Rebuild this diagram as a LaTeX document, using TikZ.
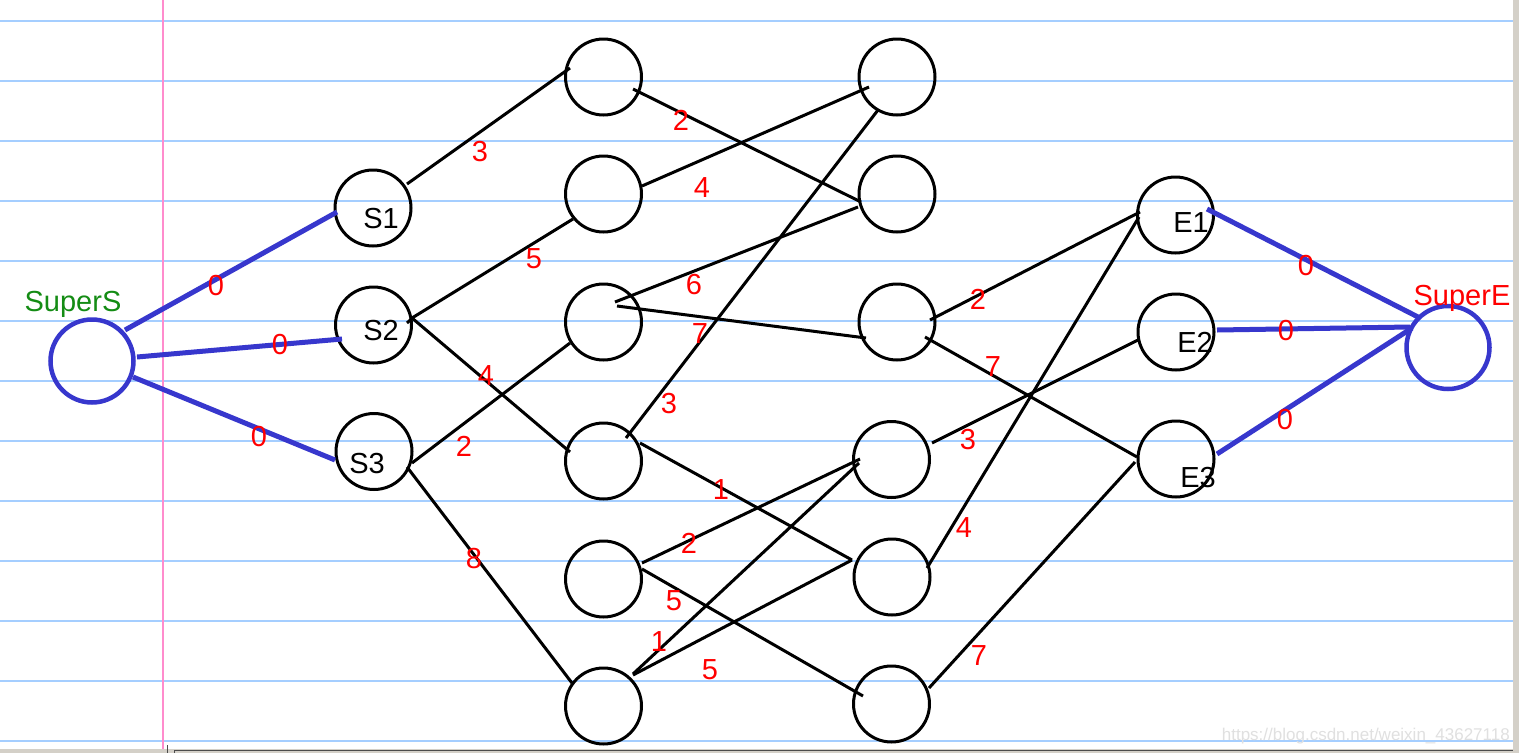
\documentclass[tikz,border=0pt]{standalone}
\usepackage{fontspec}
\setmainfont{Liberation Sans}
\usetikzlibrary{calc}
\definecolor{edgeblue}{RGB}{55,55,205}
\definecolor{gridblue}{RGB}{165,206,255}
\definecolor{marginpink}{RGB}{255,140,205}
\definecolor{labred}{RGB}{255,0,0}
\definecolor{labgreen}{RGB}{20,140,20}
\definecolor{framegray}{RGB}{212,208,200}
\tikzset{
  vtx/.style={circle,draw=black,line width=3pt,minimum size=76pt,inner sep=0pt},
  supervtx/.style={circle,draw=edgeblue,line width=4.5pt,minimum size=83pt,inner sep=0pt},
  edge/.style={draw=black,line width=3pt},
  superedge/.style={draw=edgeblue,line width=5pt},
  wt/.style={text=labred,font=\fontsize{29}{30}\selectfont,inner sep=0pt},
  vlabel/.style={text=black,font=\fontsize{29}{30}\selectfont,inner sep=0pt,anchor=base},
  gridline/.style={draw=gridblue,line width=2.8pt}
}
\begin{document}
\begin{tikzpicture}[x=1pt,y=-1pt]
\useasboundingbox (0,0) rectangle (1519,753);
\fill[white] (0,0) rectangle (1519,753);
% ruled paper
\foreach \yy in {21,81,...,741} \draw[gridline] (0,\yy) -- (1513,\yy);
\draw[marginpink,line width=2.2pt] (163,0) -- (163,749);
\fill[framegray] (1513,0) rectangle (1519,753);
\fill[framegray] (0,749) rectangle (1519,753);
\draw[black!70,line width=1pt] (174,753) -- (174,750) -- (1513,750);
\draw[black!70,line width=1pt] (167,745) -- (167,753);
% nodes
\node[supervtx] (SS) at (92,361) {};
\node[vtx] (S1) at (373,208) {};
\node[vtx] (S2) at (373.5,325) {};
\node[vtx] (S3) at (374,451.5) {};
\node[vtx] (A1) at (603.5,77) {};
\node[vtx] (A2) at (603.5,194) {};
\node[vtx] (A3) at (603.5,322) {};
\node[vtx] (A4) at (603.5,461) {};
\node[vtx] (A5) at (603.5,579) {};
\node[vtx] (A6) at (603.5,706) {};
\node[vtx] (B1) at (897,77) {};
\node[vtx] (B2) at (897,194) {};
\node[vtx] (B3) at (897,322) {};
\node[vtx] (B4) at (891.5,459.5) {};
\node[vtx] (B5) at (892,577) {};
\node[vtx] (B6) at (891.5,704) {};
\node[vtx] (E1) at (1175.5,215) {};
\node[vtx] (E2) at (1176,332) {};
\node[vtx] (E3) at (1176,459) {};
\node[supervtx] (SE) at (1448,347.5) {};
% names
\node[vlabel,text=labgreen] (SSt) at (73,311) {SuperS};
\node[vlabel,text=labred] (SEt) at (1462,305) {SuperE};
\node[vlabel] (S1t) at (381,228) {S1};
\node[vlabel] (S2t) at (381,340) {S2};
\node[vlabel] (S3t) at (367,473) {S3};
\node[vlabel] (E1t) at (1191,232) {E1};
\node[vlabel] (E2t) at (1195,352) {E2};
\node[vlabel] (E3t) at (1198,487) {E3};
% super edges
\draw[superedge] ($(SS)+(33,-31)$) -- ($(S1)+(-36,4)$);
\draw[superedge] ($(SS)+(45,-4)$) -- ($(S2)+(-31.5,14)$);
\draw[superedge] ($(SS)+(41,16)$) -- ($(S3)+(-39,8.5)$);
\draw[superedge] ($(E1)+(31.5,-6)$) -- ($(SE)+(-30,-30.5)$);
\draw[superedge] ($(E2)+(41,-2)$) -- ($(SE)+(-38,-20.5)$);
\draw[superedge] ($(E3)+(41,-5)$) -- ($(SE)+(-36,-19.5)$);
% black edges
\draw[edge] ($(S1)+(34,-24)$) -- ($(A1)+(-33.5,-9)$);
\draw[edge] ($(A1)+(29.5,12)$) -- ($(B2)+(-36,8)$);
\draw[edge] ($(A2)+(38.5,-8)$) -- ($(B1)+(-28,10)$);
\draw[edge] ($(S2)+(38.5,-7)$) -- ($(A2)+(-30.5,25)$);
\draw[edge] ($(S2)+(38.5,-7)$) -- ($(A4)+(-33.5,-9)$);
\draw[edge] ($(S2)+(33.5,-2)$) -- ($(S2)+(40,-8)$);
\draw[edge] ($(A3)+(11.5,-20)$) -- ($(B2)+(-39,13)$);
\draw[edge] ($(A3)+(13.5,-16)$) -- ($(B3)+(-31,16)$);
\draw[edge] ($(A4)+(22.5,-23)$) -- ($(B1)+(-19,33)$);
\draw[edge] ($(S3)+(38,11.5)$) -- ($(A3)+(-33.5,21)$);
\draw[edge] ($(S3)+(33,15.5)$) -- ($(A6)+(-31.5,-23)$);
\draw[edge] ($(A4)+(36.5,-18)$) -- ($(B5)+(-40,-17)$);
\draw[edge] ($(A5)+(38.5,-16)$) -- ($(B4)+(-31.5,-0.5)$);
\draw[edge] ($(A5)+(38.5,-10)$) -- ($(B6)+(-28.5,-8)$);
\draw[edge] ($(A6)+(29.5,-32)$) -- ($(B4)+(-32.5,3.5)$);
\draw[edge] ($(A6)+(29.5,-31)$) -- ($(B5)+(-40,-17)$);
\draw[edge] ($(B3)+(33,-2)$) -- ($(E1)+(-35.5,-3)$);
\draw[edge] ($(B3)+(28,15)$) -- ($(E3)+(-39,-2)$);
\draw[edge] ($(B4)+(40.5,-16.5)$) -- ($(E2)+(-38,8)$);
\draw[edge] ($(B5)+(35,-9)$) -- ($(E1)+(-36.5,2)$);
\draw[edge] ($(B6)+(37.5,-16)$) -- ($(E3)+(-41,3)$);
% weights
\node[wt] (w1) at (216,286) {0};
\node[wt] (w2) at (280,345) {0};
\node[wt] (w3) at (259,437) {0};
\node[wt] (w4) at (480,152) {3};
\node[wt] (w5) at (486,376) {4};
\node[wt] (w6) at (464,446) {2};
\node[wt] (w7) at (474,559) {8};
\node[wt] (w8) at (681,120) {2};
\node[wt] (w9) at (702,188) {4};
\node[wt] (w10) at (534,259) {5};
\node[wt] (w11) at (694,285) {6};
\node[wt] (w12) at (700,334) {7};
\node[wt] (w13) at (978,299) {2};
\node[wt] (w14) at (993,367) {7};
\node[wt] (w15) at (669,404) {3};
\node[wt] (w16) at (721,490) {1};
\node[wt] (w17) at (689,543) {2};
\node[wt] (w18) at (674,601) {5};
\node[wt] (w19) at (659,642) {1};
\node[wt] (w20) at (710,670) {5};
\node[wt] (w21) at (968,440) {3};
\node[wt] (w22) at (964,528) {4};
\node[wt] (w23) at (979,656) {7};
\node[wt] (w24) at (1306,266) {0};
\node[wt] (w25) at (1286,331) {0};
\node[wt] (w26) at (1285,420) {0};
% watermark
\node[text=black!12,font=\fontsize{17}{18}\selectfont,inner sep=0pt,anchor=base east] (wm) at (1510,740) {https://blog.csdn.net/weixin\_43627118};
\end{tikzpicture}
\end{document}
